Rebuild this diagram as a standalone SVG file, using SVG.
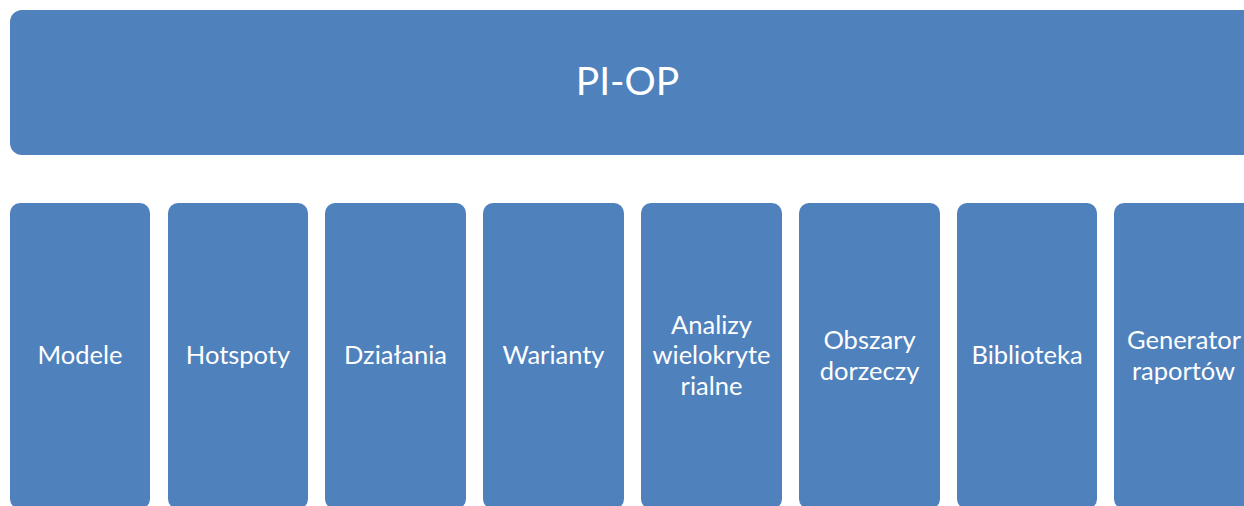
<svg xmlns="http://www.w3.org/2000/svg" width="1244" height="506" viewBox="0 0 1244 506">
<style>
.b{fill:#4F81BD;}
.t{fill:#FFFFFF;font-family:Lato,"Open Sans","Liberation Sans",sans-serif;font-size:25.5px;text-anchor:middle;}
.h{fill:#FFFFFF;font-family:Lato,"Open Sans","Liberation Sans",sans-serif;font-size:39px;text-anchor:middle;}
</style>
<rect width="1244" height="506" fill="#FFFFFF"/>
<g id="piop"><rect class="b" x="10" y="10" width="1246" height="145" rx="12"/><text class="h" x="627.5" y="95">PI-OP</text></g>
<g id="connectors"></g>
<g id="modele"><rect class="b" x="10" y="203" width="140" height="306" rx="10"/><text class="t" x="80" y="364">Modele</text></g>
<g id="hotspoty"><rect class="b" x="168" y="203" width="140" height="306" rx="10"/><text class="t" x="238" y="364">Hotspoty</text></g>
<g id="dzialania"><rect class="b" x="325" y="203" width="141" height="306" rx="10"/><text class="t" x="395.5" y="364">Działania</text></g>
<g id="warianty"><rect class="b" x="483" y="203" width="141" height="306" rx="10"/><text class="t" x="553.5" y="364">Warianty</text></g>
<g id="analizy"><rect class="b" x="641" y="203" width="141" height="306" rx="10"/><text class="t" x="711.5" y="334">Analizy</text><text class="t" x="711.5" y="364">wielokryte</text><text class="t" x="711.5" y="395">rialne</text></g>
<g id="obszary"><rect class="b" x="799" y="203" width="141" height="306" rx="10"/><text class="t" x="869.5" y="349">Obszary</text><text class="t" x="869.5" y="380">dorzeczy</text></g>
<g id="biblioteka"><rect class="b" x="957" y="203" width="140" height="306" rx="10"/><text class="t" x="1027" y="364">Biblioteka</text></g>
<g id="generator"><rect class="b" x="1114" y="203" width="141" height="306" rx="10"/><text class="t" x="1184" y="349">Generator</text><text class="t" x="1183.5" y="380">raportów</text></g>
</svg>
